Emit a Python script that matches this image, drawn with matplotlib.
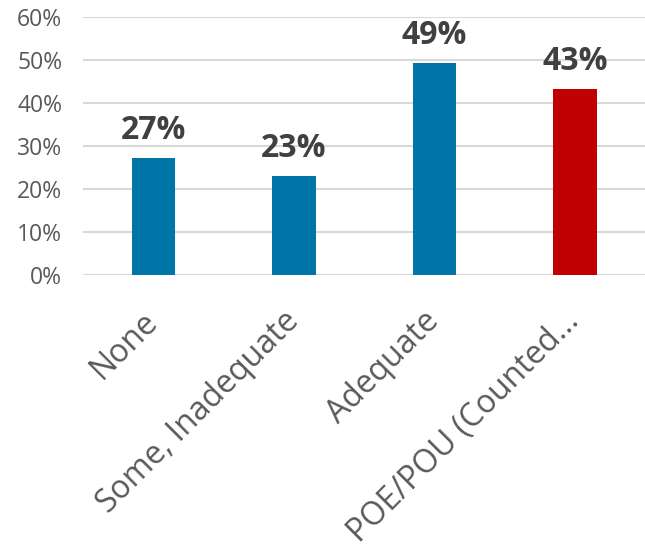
import matplotlib.pyplot as plt

categories = ["None", "Some, Inadequate", "Adequate", "POE/POU (Counted..."]
values = [27.2, 23.1, 49.3, 43.3]
bar_colors = ["#0076A8", "#0076A8", "#0076A8", "#C00000"]
yticks = [0, 10, 20, 30, 40, 50, 60]

plt.rcParams['font.family'] = ['Open Sans', 'DejaVu Sans']

fig = plt.figure(figsize=(6.45, 5.5), dpi=100)
ax = fig.add_axes([0.129, 0.5, 0.871, 0.469])

x = range(len(categories))
bars = ax.bar(x, values, width=0.31, color=bar_colors, zorder=3)

# value labels above each bar
for bar, v in zip(bars, values):
    ax.annotate(f"{v:.0f}%", (bar.get_x() + bar.get_width() / 2, v),
                xytext=(0, 8), textcoords="offset points",
                ha="center", va="bottom", fontsize=23, fontweight="bold",
                color="#404040")

ax.set_xlim(-0.5, 3.5)
ax.set_ylim(0, 60)
ax.set_yticks(yticks)
ax.set_yticklabels([f"{t}%" for t in yticks], fontsize=16.5, color="#595959")
ax.set_xticks(list(x))
ax.set_xticklabels(categories, rotation=45, ha="right", va="center",
                   rotation_mode="anchor", fontsize=23, color="#595959")
ax.tick_params(axis="both", length=0)
ax.tick_params(axis="y", pad=15)
ax.tick_params(axis="x", pad=30)

ax.grid(axis="y", color="#D9D9D9", linewidth=1.5, zorder=0)
for s in ax.spines.values():
    s.set_visible(False)

fig.savefig("out.png", dpi=100)
